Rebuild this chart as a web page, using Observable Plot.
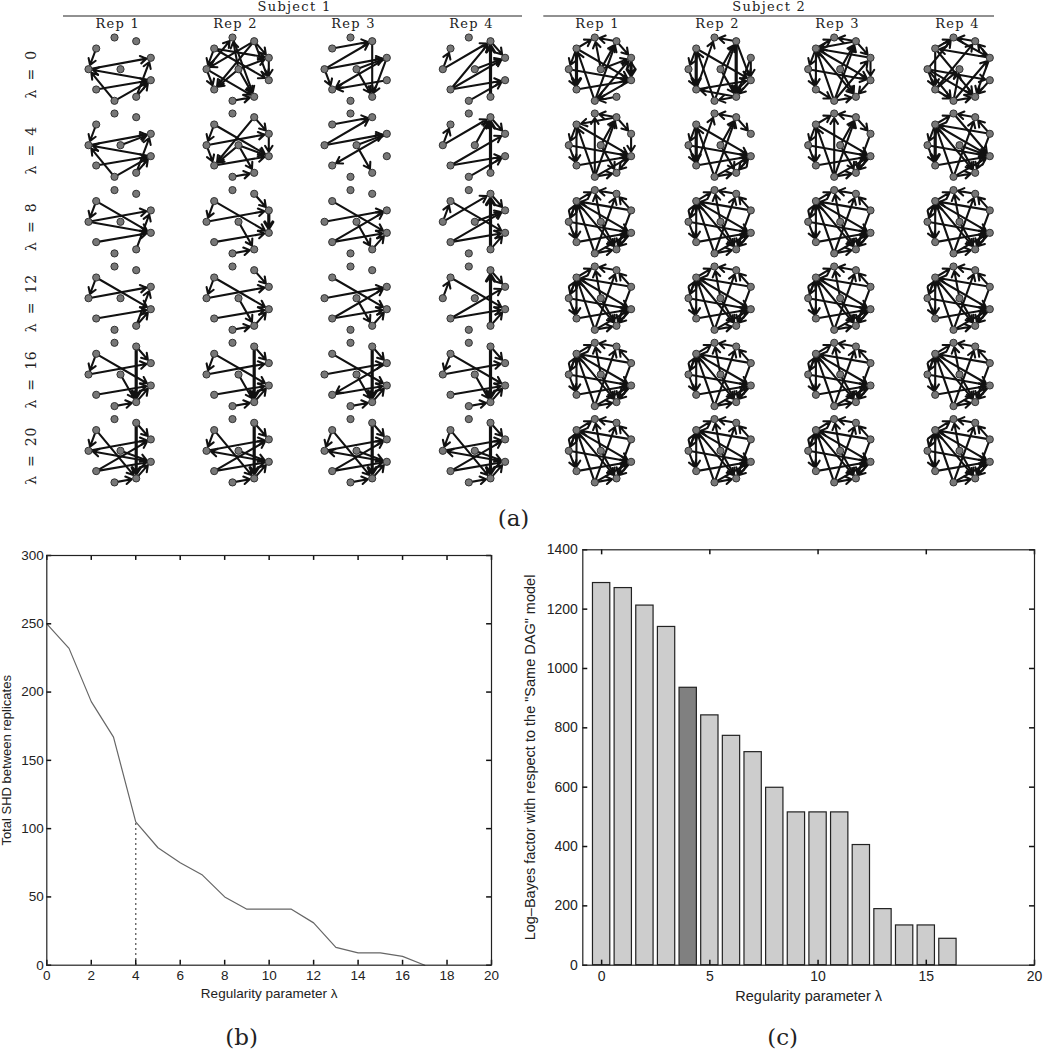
<!DOCTYPE html>
<html>
<head>
<meta charset="utf-8">
<script src="https://cdn.jsdelivr.net/npm/d3@7"></script>
<script src="https://cdn.jsdelivr.net/npm/@observablehq/plot@0.6"></script>
<style>
html,body{margin:0;padding:0;background:#fff}
#wrap{position:relative;width:1049px;height:1050px;overflow:hidden}
#wrap svg{position:absolute;overflow:visible;background:transparent}
.rep text{letter-spacing:1.3px}
.lam text{letter-spacing:0.8px;word-spacing:3px}
</style>
</head>
<body>
<div id="wrap"></div>
<script>
// ---------- panel (a): graph layout and edges ----------
const nodeIds = ["a","b","c","d","e","f","g","h","i","j"];
const nodeX = [-5.2,16.5,-23.5,31.1,-31.2,0.8,31.1,-23.5,16.5,-5.2];
const nodeY = [-31.7,-28,-20.7,-11.4,0,0,11,20.3,27.6,31.6];
const columnCentre = [119.2,237.2,355.2,473.5,599.5,719.2,838.9,958.2];
const rowCentre = [68.7,144.7,221.3,297.7,374,450.3];
const lambdaLabels = ["λ = 0","λ = 4","λ = 8","λ = 12","λ = 16","λ = 20"];
const repLabels = ["Rep 1","Rep 2","Rep 3","Rep 4","Rep 1","Rep 2","Rep 3","Rep 4"];
const repLabelX = [117.3,235,353,471,597,717,837,957];
const subjectLabels = ["Subject 1","Subject 2"];
const subjectLabelX = [294,768.7];
const subjectRuleX1 = [63,543.3];
const subjectRuleX2 = [522,994];
// lower case token: directed edge from first node to second; upper case: heavy edge
const subject1Edges = [
 ["ce ed ge je hg jg ig id",
  "ce ea fa bE bh cd cg bd bg dg fd fh eh ei ai fi ji",
  "cb eb ed eh fd fi bi di gh dh",
  "ec eb hb hd hg fd bd IB jg"],
 ["ce ed fd ge je hg jg ig id",
  "ce cg eh ed fh bh bd dg fi ji hg fg",
  "cb eb ed fd fi dh",
  "ec eb fb hd hg bd IB jg"],
 ["ce cg ed eg hg id",
  "ce cg ed bd DG fi hg ji",
  "cg ed hd hg fi ig",
  "ec eb cg hd hg fd bd IB ig"],
 ["ce cg ed hg id ig",
  "ce cg ed bd fi hg ji ig",
  "cg ed hd hg fi ig",
  "ec cg hd hg bd IB ig"],
 ["ce cg ed hg fi BI bd ig ji",
  "ce cg ed bd BI fi hg ji ig",
  "cg ed hg dh BI bd fi ig ji",
  "ce cg ed bd BI fi hg ji ig"],
 ["ce ci ed ge fg hd hg bd BI ji ig",
  "ce ci ed ge fg bd BI hd hg ji ig",
  "ce ci ed ge fg hd hg bd BI ji ig",
  "ce ci ed ge fg hd hg bd BI ji ig"]
];
const stable = "ba ca db dc fa jb ce ec ch eh cg ci jc eg fi di ji hg jg gi";
const subject2Edges = [
 ["ba ca ce CH eh fd DG cg eg hg fa fb jc jb ij jd gj bd gd",
  "ba ha ce CH eh jc cg fb BI bg dg di ij ih hg gi fi jb",
  "ca ba bc jb ce ch eh jc ci cg fb bd dg eg fi ji hj gi jd dc",
  "ca ba ea eg ei ej eh ch ci hj ji hf hb di jd db ad jf dc gi"],
 ["ba ja bd ce ch eh fb jb cg jc eg fi hg jg ji dg gi bc",
  "ba ha bd fb jb ce CH eh cg jc fi eg hg jg ji gi ig ch",
  "ba ja bd ce ch eh fb jb cg jc eg fi hg jg ji di gi ca",
  "ba ca db dc jb ce CH eh cg ci jc eg fi fg hg jg ji di ag"],
 [stable, stable, stable, stable],
 [stable, stable, stable, stable],
 [stable, stable, stable, stable],
 [stable, stable, stable, stable]
];

// ---------- panel (b) ----------
const shdLambda = [0,1,2,3,4,5,6,7,8,9,10,11,12,13,14,15,16,17];
const shdValues = [250,232,193,167,105,86,75,66,50,41,41,41,31,13,9,9,6.5,0];
const shdMarker = 4;
const shdMarkerValue = 105;
const shdXTicks = [0,2,4,6,8,10,12,14,16,18,20];
const shdYTicks = [0,50,100,150,200,250,300];

// ---------- panel (c) ----------
const bayesLambda = [0,1,2,3,4,5,6,7,8,9,10,11,12,13,14,15,16];
const bayesValues = [1288,1271,1212,1140,935,842,773,718,598,515,515,515,405,189,134,134,89];
const bayesHighlight = 4;
const bayesXTicks = [0,5,10,15,20];
const bayesYTicks = [0,200,400,600,800,1000,1200,1400];

// ---------- build tables ----------
const nodes = nodeIds.map((id,i)=>({id,x:nodeX[i],y:nodeY[i]}));
const nodeById = new Map(nodes.map(n=>[n.id,n]));
const allEdges = subject1Edges.map((row,r)=>[...row,...subject2Edges[r]]);
const edgeRows = [], nodeRows = [];
allEdges.forEach((row,r)=>row.forEach((text,c)=>{
  nodes.forEach(n=>nodeRows.push({x:columnCentre[c]+n.x,y:rowCentre[r]+n.y}));
  text.split(" ").forEach(tok=>{
    const a = nodeById.get(tok[0].toLowerCase()), b = nodeById.get(tok[1].toLowerCase());
    edgeRows.push({x1:columnCentre[c]+a.x,y1:rowCentre[r]+a.y,x2:columnCentre[c]+b.x,y2:rowCentre[r]+b.y,
      heavy:tok===tok.toUpperCase()});
  });
}));

const serif = "'DejaVu Serif','Liberation Serif',serif";
const sans = "'Liberation Sans',Arial,sans-serif";
const wrap = document.getElementById("wrap");
function place(svg,left,top){svg.style.left=left+"px";svg.style.top=top+"px";wrap.appendChild(svg);}
const plotStyle = {background:"transparent",overflow:"visible",fontFamily:sans,color:"#222"};
const plain = d=>String(d);

// inward ticks on all four sides of a frame; lengths are in data units
function inwardTicks(xTicks,yTicks,xMin,xMax,yMax,xLen,yLen){
  const tick = {stroke:"#111",strokeWidth:1.5};
  const ends = (low,high,len)=>[{low,high:low+len},{low:high,high:high-len}];
  return [
    ...ends(0,yMax,yLen).map(e=>Plot.ruleX(xTicks,{x:d=>d,y1:()=>e.low,y2:()=>e.high,...tick})),
    ...ends(xMin,xMax,xLen).map(e=>Plot.ruleY(yTicks,{y:d=>d,x1:()=>e.low,x2:()=>e.high,...tick}))
  ];
}

// panel (a)
place(Plot.plot({
  width:1049,height:530,margin:0,
  x:{domain:[0,1049],range:[0,1049],axis:null},
  y:{domain:[0,530],range:[0,530],axis:null},
  style:plotStyle,
  marks:[
    Plot.ruleY(subjectLabels.map((s,i)=>i),{y:()=>15.5,x1:i=>subjectRuleX1[i],x2:i=>subjectRuleX2[i],stroke:"#222",strokeWidth:1}),
    Plot.text(subjectLabels,{x:(d,i)=>subjectLabelX[i],y:()=>6,text:d=>d,fontFamily:serif,fontSize:13,fill:"#222",className:"rep"}),
    Plot.text(repLabels,{x:(d,i)=>repLabelX[i],y:()=>23.5,text:d=>d,fontFamily:serif,fontSize:13,fill:"#222",className:"rep"}),
    Plot.text(lambdaLabels,{x:()=>31,y:(d,i)=>rowCentre[i]+5,text:d=>d,rotate:-90,fontFamily:serif,fontSize:14,fill:"#222",className:"lam"}),
    Plot.arrow(edgeRows.filter(d=>!d.heavy),{x1:"x1",y1:"y1",x2:"x2",y2:"y2",stroke:"#111",strokeWidth:2.1,headLength:5,headAngle:65,insetEnd:4.5}),
    Plot.arrow(edgeRows.filter(d=>d.heavy),{x1:"x1",y1:"y1",x2:"x2",y2:"y2",stroke:"#111",strokeWidth:3.2,headLength:3.5,headAngle:65,insetEnd:4.5}),
    Plot.dot(nodeRows,{x:"x",y:"y",r:3.6,fill:"#777",stroke:"#333",strokeWidth:1}),
    Plot.text(["(a)"],{x:()=>513,y:()=>518,text:d=>d,fontFamily:serif,fontSize:23,fill:"#222"})
  ]
}),0,0);

// panel (b)
place(Plot.plot({
  width:510,height:520,marginLeft:46.3,marginRight:19,marginTop:25,marginBottom:85.3,
  x:{domain:[0,20],axis:null},
  y:{domain:[0,300],axis:null},
  style:plotStyle,
  marks:[
    Plot.ruleX([shdMarker],{y1:0,y2:shdMarkerValue,stroke:"#333",strokeWidth:1.4,strokeDasharray:"1.5,3.5"}),
    Plot.line(shdLambda.map((l,i)=>({l,v:shdValues[i]})),{x:"l",y:"v",stroke:"#666",strokeWidth:1.2}),
    ...inwardTicks(shdXTicks,shdYTicks,0,20,300,0.22,3.6),
    Plot.frame({stroke:"#222",strokeWidth:1.2}),
    Plot.axisX({anchor:"bottom",ticks:shdXTicks,tickSize:0,tickPadding:5,tickFormat:plain,label:null,fontSize:13.5}),
    Plot.axisY({anchor:"left",ticks:shdYTicks,tickSize:0,tickPadding:3,tickFormat:plain,label:null,fontSize:13.5}),
    Plot.text(["Regularity parameter λ"],{frameAnchor:"bottom",dy:28,lineAnchor:"middle",fontSize:13.5,fill:"#222"}),
    Plot.text(["Total SHD between replicates"],{frameAnchor:"left",dx:-40,rotate:-90,textAnchor:"middle",lineAnchor:"middle",fontSize:13,fill:"#222"}),
    Plot.text(["(b)"],{frameAnchor:"bottom",dy:72,lineAnchor:"middle",dx:-27.6,fontFamily:serif,fontSize:23,fill:"#222"})
  ]
}),0,530);

// panel (c)
place(Plot.plot({
  width:539,height:520,marginLeft:72.3,marginRight:15,marginTop:19.3,marginBottom:85.3,
  x:{domain:[-0.87,20],axis:null},
  y:{domain:[0,1400],axis:null},
  style:plotStyle,
  marks:[
    Plot.rectY(bayesLambda.map((l,i)=>({l,v:bayesValues[i]})),{
      x1:d=>d.l-0.4,x2:d=>d.l+0.4,y1:0,y2:"v",
      fill:d=>d.l===bayesHighlight?"#808080":"#cdcdcd",stroke:"#222",strokeWidth:1.2}),
    ...inwardTicks(bayesXTicks,bayesYTicks,-0.87,20,1400,0.23,17),
    Plot.frame({stroke:"#222",strokeWidth:1.2}),
    Plot.axisX({anchor:"bottom",ticks:bayesXTicks,tickSize:0,tickPadding:6,tickFormat:plain,label:null,fontSize:14}),
    Plot.axisY({anchor:"left",ticks:bayesYTicks,tickSize:0,tickPadding:5,tickFormat:plain,label:null,fontSize:14}),
    Plot.text(["Regularity parameter λ"],{frameAnchor:"bottom",dy:31.5,lineAnchor:"middle",fontSize:14.5,fill:"#222"}),
    Plot.text(['Log–Bayes factor with respect to the "Same DAG" model'],{frameAnchor:"left",dx:-52,rotate:-90,textAnchor:"middle",lineAnchor:"middle",fontSize:14.5,fill:"#222"}),
    Plot.text(["(c)"],{frameAnchor:"bottom",dy:72,lineAnchor:"middle",dx:-26,fontFamily:serif,fontSize:23,fill:"#222"})
  ]
}),510,530);
</script>
</body>
</html>
